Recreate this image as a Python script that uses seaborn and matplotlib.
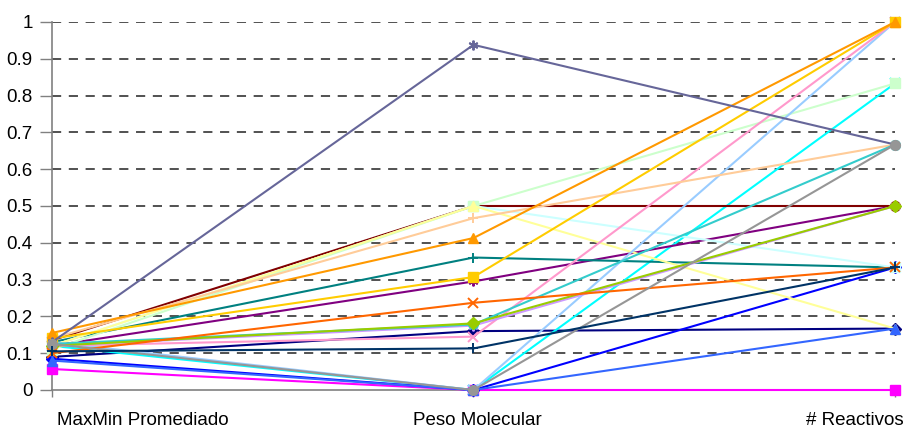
import matplotlib
matplotlib.use("Agg")
import matplotlib.pyplot as plt
import matplotlib.transforms as mtransforms
import numpy as np
import pandas as pd
import seaborn as sns

# Axes of the parallel-coordinates chart
ejes = ["MaxMin Promediado", "Peso Molecular", "# Reactivos"]

# One normalised profile per compound: (MaxMin, Peso, Reactivos)
serie_01 = [0.090, 0.160, 0.167]
serie_02 = [0.057, 0.000, 0.000]
serie_03 = [0.120, 0.000, 0.833]
serie_04 = [0.120, 0.295, 0.500]
serie_05 = [0.135, 0.500, 0.500]
serie_06 = [0.130, 0.360, 0.333]
serie_07 = [0.085, 0.000, 0.333]
serie_08 = [0.120, 0.500, 0.333]
serie_09 = [0.110, 0.500, 0.833]
serie_10 = [0.120, 0.500, 0.167]
serie_11 = [0.130, 0.000, 1.000]
serie_12 = [0.120, 0.145, 1.000]
serie_13 = [0.120, 0.175, 0.500]
serie_14 = [0.140, 0.467, 0.667]
serie_15 = [0.080, 0.000, 0.167]
serie_16 = [0.125, 0.178, 0.667]
serie_17 = [0.120, 0.181, 0.500]
serie_18 = [0.140, 0.307, 1.000]
serie_19 = [0.155, 0.413, 1.000]
serie_20 = [0.100, 0.237, 0.333]
serie_21 = [0.130, 0.938, 0.667]
serie_22 = [0.125, 0.000, 0.667]
serie_23 = [0.105, 0.113, 0.333]

series = [serie_01, serie_02, serie_03, serie_04, serie_05, serie_06, serie_07,
          serie_08, serie_09, serie_10, serie_11, serie_12, serie_13, serie_14,
          serie_15, serie_16, serie_17, serie_18, serie_19, serie_20, serie_21,
          serie_22, serie_23]

colores = ["#000080", "#FF00FF", "#00FFFF", "#800080", "#800000", "#008080",
           "#0000FF", "#CCFFFF", "#CCFFCC", "#FFFF99", "#99CCFF", "#FF99CC",
           "#CC99FF", "#FFCC99", "#3366FF", "#33CCCC", "#99CC00", "#FFCC00",
           "#FF9900", "#FF6600", "#666699", "#969696", "#003366"]

asterisco = (6, 2, 0)
marcadores = ["D", "s", "x", asterisco, "o", "+", "D", "s", "s", "^", "x",
              "x", asterisco, "+", "^", "o", "D", "s", "^", "x", asterisco,
              "o", "+"]

y_ticks = [0, 0.1, 0.2, 0.3, 0.4, 0.5, 0.6, 0.7, 0.8, 0.9, 1]
y_labels = ["0", "0.1", "0.2", "0.3", "0.4", "0.5", "0.6", "0.7", "0.8", "0.9", "1"]

rows = []
for i, vals in enumerate(series):
    for eje, v in zip(ejes, vals):
        rows.append({"serie": i, "eje": eje, "valor": v})
df = pd.DataFrame(rows)

sns.set_theme(style="white")
plt.rcParams["font.family"] = ["Liberation Sans", "DejaVu Sans"]

fig = plt.figure(figsize=(9.07, 4.30), dpi=100)
ax = fig.add_axes([52 / 907, 40 / 430, (895 - 52) / 907, (390 - 22) / 430])

# Dashed horizontal gridlines
for t in y_ticks[1:]:
    ax.axhline(t, color="#222222", lw=1.1, ls=(0, (6, 5)), zorder=0)

for i in range(len(series)):
    sub = df[df["serie"] == i]
    c = colores[i]
    m = marcadores[i]
    filled = m in ("D", "s", "^", "o")
    sns.lineplot(data=sub, x="eje", y="valor", ax=ax, color=c, lw=1.5,
                 marker=m, markersize=7 if m != "D" else 6,
                 markeredgecolor=c, markerfacecolor=c if filled else "none",
                 markeredgewidth=1.0 if filled else 1.4,
                 sort=False, legend=False, clip_on=False, zorder=3 + i * 0.01)

ax.set_xlim(0, 2)
ax.set_ylim(0, 1)
ax.set_yticks(y_ticks)
ax.set_yticklabels(y_labels)
ax.set_xticks([0, 1, 2])
ax.set_xticklabels(ejes)
ax.set_xlabel("")
ax.set_ylabel("")

for s in ["top", "right"]:
    ax.spines[s].set_visible(False)
for s in ["left", "bottom"]:
    ax.spines[s].set_color("#808080")
    ax.spines[s].set_linewidth(1.2)
    ax.spines[s].set_zorder(1)

ax.tick_params(axis="y", direction="out", length=9, width=1, color="#808080",
               labelsize=13.5, pad=5, labelcolor="black", left=True)
ax.tick_params(axis="x", direction="out", length=5, width=1, color="#808080",
               labelsize=13.5, pad=11, labelcolor="black", bottom=True)

labels = ax.get_xticklabels()
labels[0].set_horizontalalignment("left")
labels[0].set_transform(labels[0].get_transform() +
                        mtransforms.ScaledTranslation(5 / 100, 0, fig.dpi_scale_trans))
labels[2].set_horizontalalignment("right")
labels[2].set_transform(labels[2].get_transform() +
                        mtransforms.ScaledTranslation(9 / 100, 0, fig.dpi_scale_trans))
labels[1].set_transform(labels[1].get_transform() +
                        mtransforms.ScaledTranslation(4 / 100, 0, fig.dpi_scale_trans))

ax.set_facecolor("white")
fig.patch.set_facecolor("white")
fig.savefig("out.png", dpi=100)
